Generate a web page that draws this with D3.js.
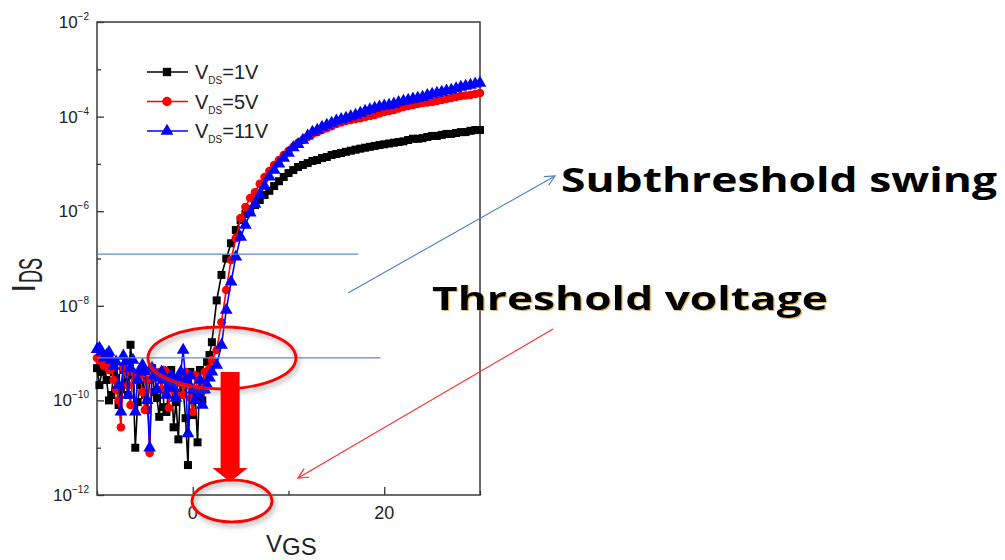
<!DOCTYPE html>
<html>
<head>
<meta charset="utf-8">
<script src="https://cdn.jsdelivr.net/npm/d3@7"></script>
<style>
    html, body { margin: 0; padding: 0; background: #fff; }
    svg { display: block; }
    .axis-text { font-family: "Liberation Sans", Arial, sans-serif; fill: #222; }
    .note { font-family: "Open Sans", sans-serif; font-weight: 700; fill: #000; }
</style>
</head>
<body>
<svg id="chart"></svg>
<script>
//-------------------
// DATA
//-------------------
var vgs = [-10, -9.75, -9.5, -9.25, -9, -8.75, -8.5, -8.25, -8, -7.75, -7.5, -7.25, -7, -6.75,
    -6.5, -6.25, -6, -5.75, -5.5, -5.25, -5, -4.75, -4.5, -4.25, -4, -3.75, -3.5, -3.25, -3,
    -2.75, -2.5, -2.25, -2, -1.75, -1.5, -1.25, -1, -0.75, -0.5, -0.25, 0, 0.25, 0.5, 0.75,
    1, 1.25, 1.5, 1.75,
    2, 2.5, 3, 3.5, 4, 4.5, 5, 5.5, 6, 6.5, 7, 7.5, 8, 8.5, 9, 9.5, 10, 10.5, 11, 11.5, 12,
    12.5, 13, 13.5, 14, 14.5, 15, 15.5, 16, 16.5, 17, 17.5, 18, 18.5, 19, 19.5, 20, 20.5, 21,
    21.5, 22, 22.5, 23, 23.5, 24, 24.5, 25, 25.5, 26, 26.5, 27, 27.5, 28, 28.5, 29, 29.5, 30];

var ids1V = [4.8e-10, 2.1e-10, 4.0e-10, 6.5e-10, 2.7e-10, 1.0e-10, 1.3e-10, 4.0e-10, 3.0e-10,
    8.0e-11, 1.7e-10, 4.4e-10, 2.4e-10, 1.3e-10, 1.5e-9, 3.4e-10, 1.0e-11, 9.2e-11, 2.1e-10,
    4.0e-10, 1.3e-10, 6.3e-11, 2.7e-10, 4.8e-10, 1.5e-10, 1.12e-10, 4.5e-11, 3.4e-10, 7.2e-11,
    5.7e-11, 2.1e-10, 4.4e-10, 2.7e-11, 9.2e-11, 1.5e-11, 3.0e-10, 1.7e-10, 4.2e-11, 4.3e-12,
    4.0e-10, 4.9e-11, 1.3e-10, 1.3e-11, 4.4e-10, 1.0e-10, 1.7e-10, 6.5e-10, 9.1e-10,
    1.7e-9, 1.3e-8, 4.5e-8, 1.0e-7, 2.1e-7, 4.0e-7, 6.5e-7, 8.7e-7, 1.1e-6, 1.35e-6, 1.72e-6,
    2.2e-6, 2.7e-6, 3.4e-6, 4.3e-6, 5.3e-6, 6.4e-6, 7.4e-6, 8.6e-6, 9.5e-6, 1.04e-5, 1.15e-5,
    1.21e-5, 1.33e-5, 1.4e-5, 1.54e-5, 1.62e-5,
    1.7e-5, 1.8e-5, 1.9e-5, 2.0e-5, 2.1e-5, 2.2e-5, 2.3e-5, 2.4e-5, 2.5e-5, 2.6e-5,
    2.7e-5, 2.8e-5, 2.9e-5, 3.0e-5, 3.2e-5, 3.4e-5, 3.4e-5, 3.5e-5, 3.7e-5, 3.9e-5,
    3.9e-5, 4.1e-5, 4.3e-5, 4.3e-5, 4.5e-5, 4.7e-5, 4.7e-5, 5.0e-5, 5.2e-5, 5.2e-5];

var ids5V = [7.9e-10, 7.1e-10, 6.5e-10, 5.3e-10, 5.6e-10, 4.4e-10, 4.8e-10, 2.7e-10, 1.7e-10,
    1.0e-10, 2.7e-11, 4.8e-10, 4.0e-10, 2.1e-10, 8.0e-11, 4.0e-10, 2.7e-10, 3.0e-10, 3.4e-10,
    1.5e-10, 6.3e-11, 2.7e-10, 7.7e-12, 4.0e-10, 3.0e-10, 3.4e-10, 4.0e-10, 1.7e-10, 4.4e-10,
    4.0e-10, 6.9e-11, 3.3e-10, 3.0e-10, 1.5e-10, 2.4e-10, 3.0e-10, 1.3e-10, 4.0e-10, 2.1e-10,
    1.12e-10, 5.7e-11, 3.4e-10, 1.7e-10, 2.7e-10, 2.1e-10, 4.0e-10, 3.0e-10, 4.8e-10,
    7.1e-10, 1.16e-9, 4.5e-9, 2.16e-8, 9.3e-8, 2.7e-7, 7.2e-7, 1.23e-6, 1.9e-6, 2.5e-6, 3.8e-6,
    5.3e-6, 7.1e-6, 9.5e-6, 1.21e-5, 1.54e-5, 1.9e-5, 2.3e-5, 2.8e-5, 3.2e-5, 3.7e-5, 4.3e-5,
    4.7e-5, 5.2e-5, 5.7e-5, 6.3e-5, 7.0e-5,
    7.5e-5, 8.1e-5, 8.5e-5, 8.9e-5, 9.3e-5, 9.8e-5, 1.03e-4, 1.08e-4, 1.16e-4, 1.25e-4,
    1.31e-4, 1.38e-4, 1.48e-4, 1.6e-4, 1.68e-4, 1.76e-4, 1.85e-4, 1.94e-4, 2.0e-4, 2.04e-4,
    2.14e-4, 2.24e-4, 2.36e-4, 2.47e-4, 2.6e-4, 2.73e-4, 2.8e-4, 2.86e-4, 3.0e-4, 3.15e-4];

var ids11V = [1.2e-9, 1.28e-9, 1.05e-9, 7.9e-10, 9.1e-10, 1.05e-9, 7.1e-10, 5.3e-10, 6.5e-10,
    2.1e-10, 5.7e-11, 8.7e-10, 6.5e-10, 1.3e-10, 4.8e-10, 7.1e-10, 5.7e-11, 2.7e-10, 4.4e-10,
    5.6e-10, 4.0e-10, 1.0e-10, 9.9e-12, 4.8e-10, 3.4e-10, 1.7e-10, 3.0e-10, 4.0e-10, 2.7e-10,
    1.3e-10, 2.1e-10, 3.4e-10, 1.83e-10, 1.12e-10, 3.0e-10, 4.0e-10, 1.16e-9, 2.7e-10, 2.0e-11,
    3.3e-10, 1.66e-10, 1.0e-10, 1.3e-10, 2.7e-10, 8.0e-11, 1.7e-10, 2.1e-10, 3.0e-10,
    4.0e-10, 5.6e-10, 1.48e-9, 8.1e-9, 3.2e-8, 1.08e-7, 2.85e-7, 5.1e-7, 9.2e-7, 1.42e-6, 2.2e-6,
    3.4e-6, 5.3e-6, 7.4e-6, 1.0e-5, 1.33e-5, 1.7e-5, 2.2e-5, 2.6e-5, 3.2e-5, 3.9e-5, 4.7e-5,
    5.2e-5, 6.0e-5, 6.6e-5, 7.3e-5, 8.1e-5,
    8.7e-5, 9.3e-5, 1.0e-4, 1.08e-4, 1.19e-4, 1.31e-4, 1.41e-4, 1.52e-4, 1.6e-4, 1.68e-4,
    1.76e-4, 1.85e-4, 2.0e-4, 2.14e-4, 2.24e-4, 2.36e-4, 2.47e-4, 2.6e-4, 2.8e-4, 3.0e-4,
    3.15e-4, 3.31e-4, 3.5e-4, 3.65e-4, 3.9e-4, 4.23e-4, 4.4e-4, 4.66e-4, 4.9e-4, 5.13e-4];

var legendLabels = ["=1V", "=5V", "=11V"];
var yMajorExps = [-2, -4, -6, -8, -10, -12];
var yMinorExps = [-3, -5, -7, -9, -11];
var xMajorTicks = [0, 20];
var xMinorTicks = [-10, 10, 30];

// current levels marked by the two guide lines
var guideLevels = [1.24e-7, 7.9e-10];
var guideEnds = [17.3, 19.6];

//-------------------
// SETUP
//-------------------
var width = 1005,
    height = 560;

var svg = d3.select("#chart")
    .attr("width", width)
    .attr("height", height);

var plot = { left: 97, right: 480, top: 22, bottom: 495 };

var x = d3.scaleLinear()
    .domain([-10, 30])
    .range([plot.left, plot.right]);

var y = d3.scaleLog()
    .domain([1e-12, 1e-2])
    .range([plot.bottom, plot.top]);

var defs = svg.append("defs");

var shadow = defs.append("filter")
    .attr("id", "shadow")
    .attr("x", "-20%").attr("y", "-30%")
    .attr("width", "140%").attr("height", "160%");
shadow.append("feDropShadow")
    .attr("dx", 2).attr("dy", 3)
    .attr("stdDeviation", 2.5)
    .attr("flood-color", "#777")
    .attr("flood-opacity", 0.6);

var fringe = defs.append("filter")
    .attr("id", "fringe")
    .attr("x", "-5%").attr("y", "-20%")
    .attr("width", "110%").attr("height", "140%");
fringe.append("feDropShadow")
    .attr("dx", 1.2).attr("dy", 1)
    .attr("stdDeviation", 0.4)
    .attr("flood-color", "#c98a10")
    .attr("flood-opacity", 0.6);

function arrowMarker(id, color) {
    defs.append("marker")
        .attr("id", id)
        .attr("viewBox", "0 0 12 12")
        .attr("refX", 11).attr("refY", 6)
        .attr("markerWidth", 12).attr("markerHeight", 12)
        .attr("markerUnits", "userSpaceOnUse")
        .attr("orient", "auto")
        .append("path")
        .attr("d", "M1,1 L11,6 L1,11")
        .attr("fill", "none")
        .attr("stroke", color)
        .attr("stroke-width", 1.2);
}
arrowMarker("arrowBlue", "#4a7fc8");
arrowMarker("arrowRed", "#ff2a2a");

//-------------------
// AXES
//-------------------
svg.append("g")
    .attr("transform", "translate(" + plot.left + ",0)")
    .call(d3.axisLeft(y).tickValues(yMajorExps.map(e => Math.pow(10, e))).tickSize(-7).tickFormat(""))
    .call(g => g.select(".domain").remove());

svg.append("g")
    .attr("transform", "translate(" + plot.left + ",0)")
    .call(d3.axisLeft(y).tickValues(yMinorExps.map(e => Math.pow(10, e))).tickSize(-4).tickFormat(""))
    .call(g => g.select(".domain").remove());

svg.append("g")
    .attr("transform", "translate(0," + plot.bottom + ")")
    .call(d3.axisBottom(x).tickValues(xMajorTicks).tickSize(-8).tickFormat(""))
    .call(g => g.select(".domain").remove());

svg.append("g")
    .attr("transform", "translate(0," + plot.bottom + ")")
    .call(d3.axisBottom(x).tickValues(xMinorTicks).tickSize(-4).tickFormat(""))
    .call(g => g.select(".domain").remove());

svg.selectAll(".tick line")
    .attr("stroke", "#333")
    .attr("stroke-width", 1.3);

svg.append("rect")
    .attr("x", plot.left)
    .attr("y", plot.top)
    .attr("width", plot.right - plot.left)
    .attr("height", plot.bottom - plot.top)
    .attr("fill", "none")
    .attr("stroke", "#3a3a3a")
    .attr("stroke-width", 1.5);

// y tick labels: 10 with a superscript exponent
yMajorExps.forEach(e => {
    var t = svg.append("text")
        .attr("class", "axis-text")
        .attr("x", 89)
        .attr("y", y(Math.pow(10, e)) + 6)
        .attr("text-anchor", "end")
        .style("font-size", "17px");
    t.append("tspan").text("10");
    t.append("tspan")
        .attr("dy", -8)
        .style("font-size", "10px")
        .text("\u2212" + Math.abs(e));
});

svg.selectAll("text.xlabel")
    .data(xMajorTicks)
    .enter()
    .append("text")
    .attr("class", "axis-text xlabel")
    .attr("x", d => x(d))
    .attr("y", 519)
    .attr("text-anchor", "middle")
    .style("font-size", "18px")
    .text(d => d);

// axis titles
var xTitle = svg.append("text")
    .attr("class", "axis-text")
    .attr("x", 266)
    .attr("y", 552)
    .style("font-size", "24px");
xTitle.append("tspan").text("V");
xTitle.append("tspan").attr("dy", 3).text("GS");

var yTitle = svg.append("g")
    .attr("transform", "translate(35,293) rotate(-90)");
yTitle.append("text")
    .attr("class", "axis-text")
    .style("font-size", "34px")
    .text("I");
yTitle.append("text")
    .attr("class", "axis-text")
    .attr("transform", "translate(10,7) scale(0.53,1)")
    .style("font-size", "34px")
    .text("DS");

//-------------------
// CURVES
//-------------------
var series = [
    { values: ids1V, color: "#000000", symbol: d3.symbolSquare, size: 64 },
    { values: ids5V, color: "#ff0000", symbol: d3.symbolCircle, size: 58 },
    { values: ids11V, color: "#0000ff", symbol: d3.symbolTriangle, size: 70 }
];

var line = d3.line()
    .x(d => x(d[0]))
    .y(d => y(d[1]));

series.forEach(s => {
    var pts = vgs.map((v, i) => [v, s.values[i]]);

    svg.append("path")
        .datum(pts)
        .attr("fill", "none")
        .attr("stroke", s.color)
        .attr("stroke-width", 1.6)
        .attr("d", line);

    svg.append("g")
        .selectAll("path")
        .data(pts)
        .enter()
        .append("path")
        .attr("transform", d => "translate(" + x(d[0]) + "," + y(d[1]) + ")")
        .attr("d", d3.symbol().type(s.symbol).size(s.size))
        .attr("fill", s.color);
});

//-------------------
// LEGEND
//-------------------
var legend = svg.append("g");
series.forEach((s, i) => {
    var ly = 72 + i * 29.5;
    legend.append("line")
        .attr("x1", 147).attr("x2", 188)
        .attr("y1", ly).attr("y2", ly)
        .attr("stroke", s.color)
        .attr("stroke-width", 1.5);
    legend.append("path")
        .attr("transform", "translate(167," + ly + ")")
        .attr("d", d3.symbol().type(s.symbol).size(70))
        .attr("fill", s.color);
    var t = legend.append("text")
        .attr("class", "axis-text")
        .attr("x", 195)
        .attr("y", ly + 7)
        .style("font-size", "20px");
    t.append("tspan").text("V");
    t.append("tspan").attr("dy", 5).style("font-size", "10px").text("DS");
    t.append("tspan").attr("dy", -5).text(legendLabels[i]);
});

//-------------------
// ANNOTATIONS
//-------------------
guideLevels.forEach((lvl, i) => {
    svg.append("line")
        .attr("x1", plot.left)
        .attr("x2", x(guideEnds[i]))
        .attr("y1", y(lvl))
        .attr("y2", y(lvl))
        .attr("stroke", "#5a8ad4")
        .attr("stroke-width", 1.2);
});

svg.append("ellipse")
    .attr("cx", x(3.05))
    .attr("cy", y(7.9e-10))
    .attr("rx", 74)
    .attr("ry", 31)
    .attr("fill", "none")
    .attr("stroke", "#ff0000")
    .attr("stroke-width", 3)
    .attr("filter", "url(#shadow)");

// thick arrow down to the axis
var ax = x(3.9);
svg.append("path")
    .attr("d", "M" + (ax - 9.5) + ",372 L" + (ax + 9.5) + ",372 L" + (ax + 9.5) + ",468 L" +
        (ax + 17.5) + ",468 L" + ax + ",482 L" + (ax - 17.5) + ",468 L" + (ax - 9.5) + ",468 Z")
    .attr("fill", "#ff0000");

svg.append("ellipse")
    .attr("cx", 232)
    .attr("cy", 501)
    .attr("rx", 40)
    .attr("ry", 21)
    .attr("fill", "none")
    .attr("stroke", "#ff0000")
    .attr("stroke-width", 3)
    .attr("filter", "url(#shadow)");

svg.append("line")
    .attr("x1", 348).attr("y1", 293)
    .attr("x2", 555).attr("y2", 176)
    .attr("stroke", "#4a7fc8")
    .attr("stroke-width", 1.1)
    .attr("marker-end", "url(#arrowBlue)");

svg.append("line")
    .attr("x1", 553).attr("y1", 329)
    .attr("x2", 298).attr("y2", 478)
    .attr("stroke", "#ff2a2a")
    .attr("stroke-width", 1.1)
    .attr("marker-end", "url(#arrowRed)");

svg.append("text")
    .attr("class", "note")
    .attr("x", 561)
    .attr("y", 192)
    .attr("textLength", 436)
    .attr("lengthAdjust", "spacingAndGlyphs")
    .style("font-size", "34px")
    .text("Subthreshold swing");

svg.append("text")
    .attr("class", "note")
    .attr("x", 432)
    .attr("y", 310)
    .attr("textLength", 396)
    .attr("lengthAdjust", "spacingAndGlyphs")
    .attr("filter", "url(#fringe)")
    .style("font-size", "32px")
    .text("Threshold voltage");
</script>
</body>
</html>
